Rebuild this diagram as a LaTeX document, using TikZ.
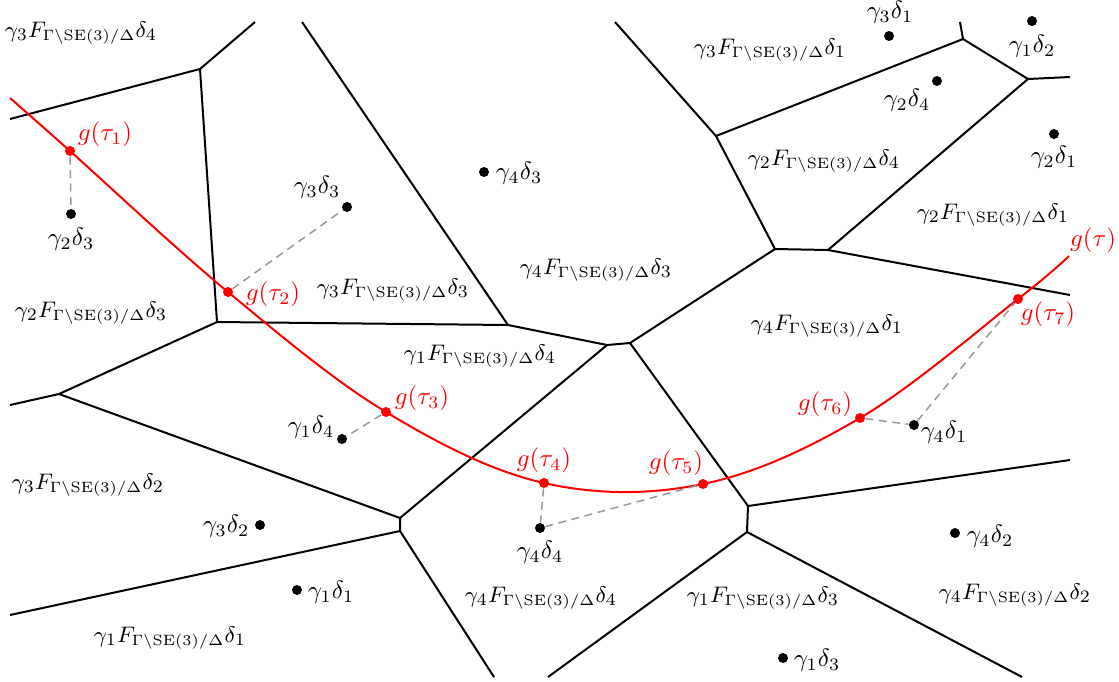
\documentclass[tikz,border=0pt]{standalone}
\usepackage{amsmath}
\begin{document}
\begin{tikzpicture}[x=0.4pt,y=-0.4pt,
  edge/.style={black,line width=0.8pt},
  trail/.style={red,line width=0.8pt},
  link/.style={gray!80,line width=0.6pt,dash pattern=on 3.2pt off 2.2pt},
  pt/.style={circle,fill=black,inner sep=0pt,minimum size=4pt},
  rpt/.style={circle,fill=red,inner sep=0pt,minimum size=4pt},
  lab/.style={inner sep=1pt},
  reg/.style={inner sep=1pt,font=\fontsize{9.5}{11}\selectfont},
  rlab/.style={inner sep=1pt,text=red}]
\useasboundingbox (0,0) rectangle (1119,681);
\newcommand{\Fd}[2]{$\gamma_{#1}F_{\mbox{\fontsize{5.9}{7}\selectfont$\Gamma\backslash\mathrm{SE}(3)/\Delta$}}\delta_{#2}$}
% vertices
\coordinate (A) at (200,69);
\coordinate (B) at (217,322);
\coordinate (C) at (508,325);
\coordinate (D) at (59,394);
\coordinate (E) at (400,518);
\coordinate (F) at (400,531);
\coordinate (G) at (607,345);
\coordinate (H) at (630,343);
\coordinate (I) at (775,249);
\coordinate (J) at (828,250);
\coordinate (K) at (1028,79);
\coordinate (L) at (963,39);
\coordinate (M) at (716,136);
\coordinate (N) at (748,506);
\coordinate (O) at (747,532);
% boundary ends
\coordinate (a1) at (10,119);
\coordinate (a2) at (255,22);
\coordinate (a3) at (302,22);
\coordinate (d1) at (10,405);
\coordinate (f1) at (10,615);
\coordinate (f2) at (494,677);
\coordinate (j1) at (1070,295);
\coordinate (k1) at (1070,77);
\coordinate (l1) at (960,22);
\coordinate (m1) at (615,22);
\coordinate (n1) at (1070,460);
\coordinate (o1) at (1022,677);
\coordinate (o2) at (548,677);
% edges
\draw[edge] (a1) -- (A) -- (a2);
\draw[edge] (A) -- (B) -- (C);
\draw[edge] (B) -- (D) -- (d1);
\draw[edge] (D) -- (E) -- (F) -- (f1);
\draw[edge] (F) -- (f2);
\draw[edge] (E) -- (G) -- (H);
\draw[edge] (a3) -- (C) -- (G);
\draw[edge] (H) -- (I) -- (J) -- (j1);
\draw[edge] (J) -- (K) -- (k1);
\draw[edge] (K) -- (L) -- (l1);
\draw[edge] (L) -- (M) -- (m1);
\draw[edge] (M) -- (I);
\draw[edge] (H) -- (N) -- (O) -- (o1);
\draw[edge] (N) -- (n1);
\draw[edge] (O) -- (o2);
% sample points
\node[pt] (p23) at (71,214) {};
\node[pt] (p33) at (347,207) {};
\node[pt] (p43) at (484,172) {};
\node[pt] (p31) at (889,36) {};
\node[pt] (p12) at (1032,21) {};
\node[pt] (p24) at (937,81) {};
\node[pt] (p21) at (1054,134) {};
\node[pt] (p14) at (342,439) {};
\node[pt] (p32) at (260,525) {};
\node[pt] (p11) at (297,590) {};
\node[pt] (p44) at (540,528) {};
\node[pt] (p41) at (914,425) {};
\node[pt] (p42) at (955,533) {};
\node[pt] (p13) at (783,658) {};
% curve
\draw[trail] plot[smooth,tension=0.6] coordinates {(10,98) (70,151) (228,292) (386,412) (544,483) (703,484) (860,418) (1018,299) (1069,256)};
\node[rpt] (t1) at (70,151) {};
\node[rpt] (t2) at (228,292) {};
\node[rpt] (t3) at (386,412) {};
\node[rpt] (t4) at (544,483) {};
\node[rpt] (t5) at (703,484) {};
\node[rpt] (t6) at (860,418) {};
\node[rpt] (t7) at (1018,299) {};
% dashed links
\draw[link] (t1) -- (p23);
\draw[link] (t2) -- (p33);
\draw[link] (t3) -- (p14);
\draw[link] (t4) -- (p44) -- (t5);
\draw[link] (t6) -- (p41) -- (t7);
% point labels
\node[lab] (l23) at (71,239) {$\gamma_2\delta_3$};
\node[lab] (l33) at (317,187) {$\gamma_3\delta_3$};
\node[lab] (l43) at (519,173) {$\gamma_4\delta_3$};
\node[lab] (l31) at (890,12) {$\gamma_3\delta_1$};
\node[lab] (l12) at (1032,46) {$\gamma_1\delta_2$};
\node[lab] (l24) at (907,100) {$\gamma_2\delta_4$};
\node[lab] (l21) at (1054,157) {$\gamma_2\delta_1$};
\node[lab] (l14) at (311,427) {$\gamma_1\delta_4$};
\node[lab] (l32) at (226,526) {$\gamma_3\delta_2$};
\node[lab] (l11) at (331,592) {$\gamma_1\delta_1$};
\node[lab] (l44) at (540,552) {$\gamma_4\delta_4$};
\node[lab] (l41) at (944,432) {$\gamma_4\delta_1$};
\node[lab] (l42) at (990,536) {$\gamma_4\delta_2$};
\node[lab] (l13) at (817,660) {$\gamma_1\delta_3$};
% region labels
\node[reg] (r34) at (81,33) {\Fd{3}{4}};
\node[reg] (r23) at (91,313) {\Fd{2}{3}};
\node[reg] (r33) at (393,290) {\Fd{3}{3}};
\node[reg] (r43) at (596,270) {\Fd{4}{3}};
\node[reg] (r31) at (770,50) {\Fd{3}{1}};
\node[reg] (r24) at (824,161) {\Fd{2}{4}};
\node[reg] (r21) at (993,215) {\Fd{2}{1}};
\node[reg] (r41) at (827,326) {\Fd{4}{1}};
\node[reg] (r14) at (480,356) {\Fd{1}{4}};
\node[reg] (r32) at (88,485) {\Fd{3}{2}};
\node[reg] (r11) at (170,638) {\Fd{1}{1}};
\node[reg] (r44) at (541,598) {\Fd{4}{4}};
\node[reg] (r13) at (763,598) {\Fd{1}{3}};
\node[reg] (r42) at (1015,595) {\Fd{4}{2}};
% curve labels
\node[rlab] (g1) at (105,134) {$g(\tau_1)$};
\node[rlab] (g2) at (273,294) {$g(\tau_2)$};
\node[rlab] (g3) at (422,398) {$g(\tau_3)$};
\node[rlab] (g4) at (544,460) {$g(\tau_4)$};
\node[rlab] (g5) at (676,463) {$g(\tau_5)$};
\node[rlab] (g6) at (825,404) {$g(\tau_6)$};
\node[rlab] (g7) at (1048,314) {$g(\tau_7)$};
\node[rlab] (g) at (1093,240) {$g(\tau)$};
\end{tikzpicture}
\end{document}
